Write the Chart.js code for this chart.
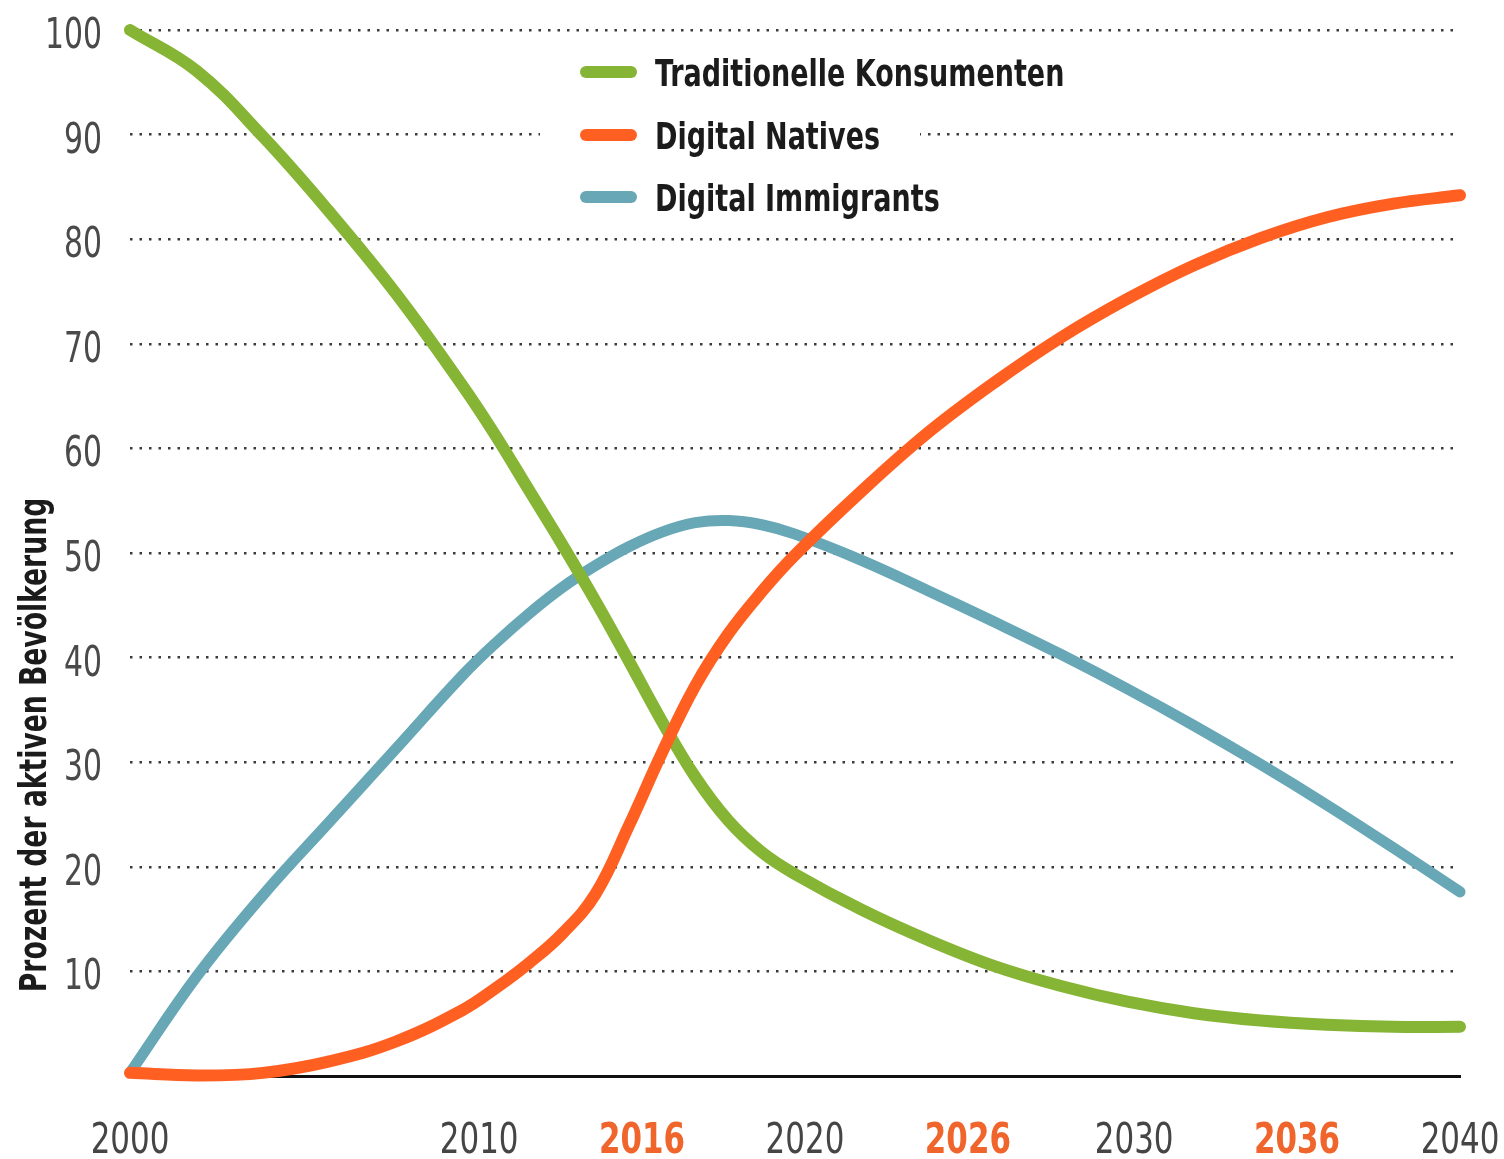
<!DOCTYPE html>
<html>
<head>
<meta charset="utf-8">
<script src="https://cdn.jsdelivr.net/npm/chart.js@4"></script>
<style>
  html, body { margin: 0; padding: 0; background: #fff; }
  #wrap { width: 1504px; height: 1159px; position: relative; }
</style>
</head>
<body>
<div id="wrap"><canvas id="adoptionChart"></canvas></div>
<script>
const years = [2000, 2002, 2004, 2006, 2008, 2010, 2011, 2012, 2013, 2014, 2015, 2016, 2017, 2018, 2019, 2020, 2022, 2024, 2026, 2028, 2030, 2032, 2034, 2036, 2038, 2040];
const traditionelle = [100, 96.1, 89.8, 82.6, 74.8, 66.0, 61.2, 56.0, 50.8, 45.4, 39.7, 33.9, 28.6, 24.4, 21.4, 19.3, 15.9, 13.0, 10.5, 8.6, 7.1, 6.0, 5.3, 4.9, 4.7, 4.7];
const natives = [0.3, 0.05, 0.3, 1.4, 3.3, 6.3, 8.4, 10.8, 13.6, 17.4, 23.9, 30.9, 37.3, 42.3, 46.3, 49.8, 55.9, 61.5, 66.3, 70.6, 74.3, 77.5, 80.1, 82.1, 83.4, 84.2];
const immigrants = [0.3, 9.5, 17.3, 24.3, 31.3, 38.3, 41.4, 44.2, 46.7, 48.8, 50.6, 52.0, 52.9, 53.1, 52.7, 51.8, 49.3, 46.4, 43.4, 40.3, 37.0, 33.5, 29.8, 25.9, 21.8, 17.6];

const seriesNames = ['Traditionelle Konsumenten', 'Digital Natives', 'Digital Immigrants'];
const xTickLabels = ['2000', '2010', '2016', '2020', '2026', '2030', '2036', '2040'];
const xTickAt = [2000, 2010.5, 2015.4, 2020.3, 2025.2, 2030.2, 2035.1, 2040];
const highlightLabels = ['2016', '2026', '2036'];

const GREEN = '#86B434';
const ORANGE = '#FF6022';
const BLUE = '#67A7B6';
const COND = "'DejaVu Sans Condensed', 'DejaVu Sans', sans-serif";

const pts = (vals) => years.map((y, i) => ({ x: y, y: vals[i] }));

// narrow text: the installed condensed face is still wider than the original
function narrowText(ctx, text, x, y, font, color, align, sx) {
    ctx.save();
    ctx.translate(x, y);
    ctx.scale(sx, 1);
    ctx.font = font;
    ctx.fillStyle = color;
    ctx.textAlign = align;
    ctx.textBaseline = 'alphabetic';
    ctx.fillText(text, 0, 0);
    ctx.restore();
}

const decorations = {
    id: 'decorations',
    afterDraw(chart) {
        const ctx = chart.ctx;

        // axis labels, placed from the scales' own ticks
        const xs = chart.scales.x;
        xs.ticks.forEach((t, i) => {
            const label = xTickLabels[i];
            const hl = highlightLabels.includes(label);
            narrowText(ctx, label, xs.getPixelForValue(t.value), 1153,
                (hl ? 'bold ' : '') + '43px ' + COND, hl ? '#F0652B' : '#454545', 'center', 0.8);
        });
        const ys = chart.scales.y;
        ys.ticks.forEach((t) => {
            if (t.value === 0) return;
            narrowText(ctx, String(t.value), 102, ys.getPixelForValue(t.value) + 18,
                '42px ' + COND, '#4a4a4a', 'right', 0.79);
        });

        // legend inside the plot
        const colors = [GREEN, ORANGE, BLUE];
        const rows = [72, 135, 197];
        const sx = 0.79;
        seriesNames.forEach((name, i) => {
            ctx.save();
            ctx.font = 'bold 38px ' + COND;
            const w = ctx.measureText(name).width * sx;
            ctx.fillStyle = '#fff';
            ctx.fillRect(540, rows[i] - 20, 655 + w + 40 - 540, 40);
            ctx.strokeStyle = colors[i];
            ctx.lineWidth = 12;
            ctx.lineCap = 'round';
            ctx.beginPath();
            ctx.moveTo(586, rows[i]);
            ctx.lineTo(631, rows[i]);
            ctx.stroke();
            ctx.restore();
            narrowText(ctx, name, 655, rows[i] + 14, 'bold 38px ' + COND, '#1b1b1b', 'left', sx);
        });

        // y title
        ctx.save();
        ctx.translate(46, 745);
        ctx.rotate(-Math.PI / 2);
        narrowText(ctx, 'Prozent der aktiven Bevölkerung', 0, 0, 'bold 37px ' + COND, '#1b1b1b', 'center', 0.8);
        ctx.restore();
    }
};

const lineStyle = {
    pointRadius: 0,
    tension: 0.4,
    borderCapStyle: 'round',
    borderJoinStyle: 'round',
    clip: false,
    fill: false
};

new Chart(document.getElementById('adoptionChart'), {
    type: 'line',
    data: {
        datasets: [
            { label: seriesNames[0], data: pts(traditionelle), borderColor: GREEN, borderWidth: 12, order: 2, ...lineStyle },
            { label: seriesNames[1], data: pts(natives), borderColor: ORANGE, borderWidth: 12, order: 1, ...lineStyle },
            { label: seriesNames[2], data: pts(immigrants), borderColor: BLUE, borderWidth: 11, order: 3, ...lineStyle }
        ]
    },
    options: {
        responsive: true,
        maintainAspectRatio: false,
        animation: false,
        layout: { padding: { top: 30, right: 44, left: 0, bottom: 0 } },
        plugins: {
            legend: { display: false },
            tooltip: { enabled: false }
        },
        scales: {
            x: {
                type: 'linear',
                min: 2000,
                max: 2040,
                afterBuildTicks: (scale) => { scale.ticks = xTickAt.map(v => ({ value: v })); },
                afterFit: (scale) => { scale.height = 83; },
                grid: { display: false, drawTicks: false },
                border: { display: true, color: '#111', width: 3 },
                ticks: { display: false }
            },
            y: {
                min: 0,
                max: 100,
                afterFit: (scale) => { scale.width = 130; },
                grid: { color: '#3a3a3a', lineWidth: 2.5, drawTicks: false },
                border: { display: false, dash: [2.5, 7] },
                ticks: { display: false, stepSize: 10 }
            }
        }
    },
    plugins: [decorations]
});
</script>
</body>
</html>
